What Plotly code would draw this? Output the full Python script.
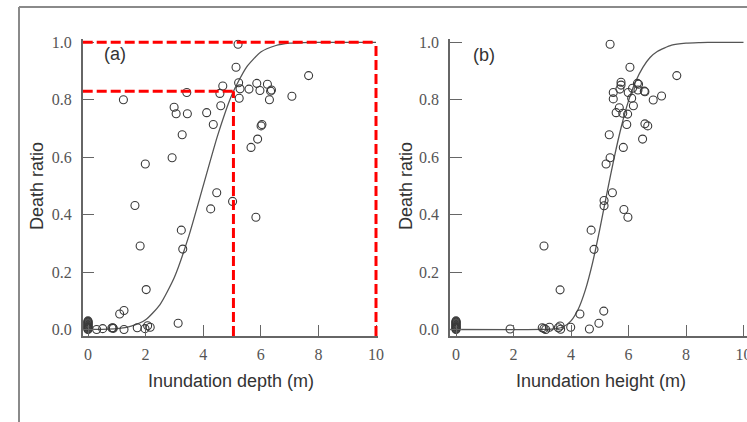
import plotly.graph_objects as go

# ---------------- data ----------------
# Panel (a): inundation depth vs death ratio
zero_cluster_ratio = [0.0, 0.0025, 0.005, 0.0075, 0.01, 0.0125, 0.015, 0.0175, 0.02, 0.0225, 0.025, 0.0275, 0.03]

depth_x = [0] * len(zero_cluster_ratio) + [
           0.30, 0.51, 0.83, 0.86, 0.88, 1.25, 1.71, 1.98, 2.07, 2.16, 3.13,
           1.10, 1.25, 2.02, 1.81, 3.29, 3.24, 1.63, 4.26, 4.47, 5.02, 5.83,
           1.99, 2.92, 3.27, 4.35, 2.99, 3.06, 3.45, 4.12, 4.61, 1.23, 3.43, 4.58, 4.68, 5.14, 5.21,
           5.23, 5.28, 5.25, 5.59, 5.86, 5.97, 6.23, 6.34, 6.37, 6.30, 7.08, 7.66, 6.04, 6.01, 5.89, 5.66]
depth_ratio = zero_cluster_ratio + [
               0.0, 0.003, 0.005, 0.006, 0.004, 0.0, 0.006, 0.003, 0.013, 0.008, 0.022,
               0.054, 0.066, 0.139, 0.291, 0.280, 0.346, 0.432, 0.420, 0.476, 0.446, 0.391,
               0.576, 0.598, 0.678, 0.714, 0.774, 0.751, 0.751, 0.755, 0.779, 0.800, 0.825, 0.822, 0.848, 0.913, 0.993,
               0.859, 0.838, 0.805, 0.837, 0.857, 0.832, 0.854, 0.830, 0.834, 0.800, 0.812, 0.884, 0.714, 0.709, 0.663, 0.634]

# fitted curve (a)
curve_a_x = [-0.18, 0, 0.5, 1, 1.5, 2, 2.5, 3, 3.5, 4, 4.5, 5, 5.5, 6, 6.5, 7, 7.5, 8, 9, 10]
curve_a_y = [0.0, 0.0001, 0.0007, 0.003, 0.012, 0.034, 0.087, 0.182, 0.325, 0.5, 0.675, 0.818,
             0.913, 0.966, 0.988, 0.997, 0.999, 1.0, 1.0, 1.0]

# Panel (b): inundation height vs death ratio
height_x = [0] * len(zero_cluster_ratio) + [
            1.88, 3.0, 3.06, 3.12, 3.25, 3.56, 3.62, 3.64, 3.99, 4.64, 4.97, 4.31, 5.14, 3.62, 3.06,
            4.80, 4.70, 5.98, 5.84, 5.15, 5.15, 5.44,
            5.22, 5.36, 5.82, 6.49, 5.33, 5.94, 6.57, 6.67, 5.57, 5.80, 5.97, 5.68, 6.17, 6.11, 6.86,
            7.15, 5.47, 5.47, 5.70, 5.74, 5.74, 5.99, 6.14, 6.31, 6.35, 6.33, 6.55, 6.57, 6.05, 7.68, 5.36]
height_ratio = zero_cluster_ratio + [
                0.002, 0.006, 0.003, 0.0, 0.008, 0.006, 0.012, 0.001, 0.008, 0.002, 0.022, 0.054, 0.064, 0.138, 0.291,
                0.279, 0.346, 0.391, 0.418, 0.431, 0.449, 0.476,
                0.576, 0.598, 0.634, 0.663, 0.678, 0.714, 0.716, 0.709, 0.755, 0.753, 0.750, 0.772, 0.779, 0.805, 0.799,
                0.813, 0.803, 0.825, 0.837, 0.851, 0.861, 0.825, 0.840, 0.857, 0.854, 0.834, 0.830, 0.828, 0.913, 0.884, 0.993]

curve_b_x = [-0.2, 3.0, 3.5, 3.75, 4.0, 4.25, 4.5, 4.75, 5.0, 5.25, 5.5, 5.75, 6.0, 6.25, 6.5,
             6.75, 7.0, 7.5, 8.0, 8.5, 9.0, 10.0]
curve_b_y = [0.0, 0.0001, 0.003, 0.0105, 0.030, 0.0705, 0.138, 0.232, 0.349, 0.475, 0.597, 0.706,
             0.796, 0.864, 0.913, 0.947, 0.968, 0.990, 0.997, 0.999, 1.0, 1.0]

# reference read-off marked by the red dashed guides in panel (a)
ref_depth = 5.05
ref_ratio = 0.83
max_depth = 10
max_ratio = 1.0

x_ticks = [0, 2, 4, 6, 8, 10]
y_ticks = [0.0, 0.2, 0.4, 0.6, 0.8, 1.0]
y_tick_text = ["0.0", "0.2", "0.4", "0.6", "0.8", "1.0"]

# ---------------- figure ----------------
W, H = 747, 422
def px(x):
    return x / W
def py(y):
    return 1 - y / H

fig = go.Figure()

marker = dict(symbol="circle-open", size=8, color="#3a3a3a", line=dict(width=1.1))
line_style = dict(color="#555555", width=1.3, shape="spline", smoothing=0.6)

fig.add_trace(go.Scatter(x=curve_a_x, y=curve_a_y, mode="lines", line=line_style,
                         xaxis="x", yaxis="y", showlegend=False, hoverinfo="skip"))
fig.add_trace(go.Scatter(x=depth_x, y=depth_ratio, mode="markers", marker=marker,
                         xaxis="x", yaxis="y", showlegend=False))
fig.add_trace(go.Scatter(x=curve_b_x, y=curve_b_y, mode="lines", line=line_style,
                         xaxis="x2", yaxis="y2", showlegend=False, hoverinfo="skip"))
fig.add_trace(go.Scatter(x=height_x, y=height_ratio, mode="markers", marker=marker,
                         xaxis="x2", yaxis="y2", showlegend=False))

tickfont = dict(family="Liberation Serif, Times New Roman, serif", size=16, color="#555555")
axis_common = dict(showline=True, linecolor="#666666", linewidth=1.5, mirror=False,
                   ticks="inside", tickcolor="#666666", tickwidth=1.2,
                   showgrid=False, zeroline=False, tickfont=tickfont, automargin=False,
                   fixedrange=True, ticklabeloverflow="allow")

# y: 0 -> 329.5 px, 1 -> 42.3 px ; keep a little headroom so the top red dash isn't clipped
y0_px, y_per = 329.5, 287.2
yrange = [-0.0226, 1.01]
ydom = [py(y0_px - yrange[0] * y_per), py(y0_px - yrange[1] * y_per)]
# x (a): 0 -> 88 px, 28.8 px per unit
xa_range = [-0.184, 10.07]
xa_dom = [px(88 + xa_range[0] * 28.8), px(88 + xa_range[1] * 28.8)]

fig.update_layout(
    width=W, height=H, autosize=False,
    margin=dict(l=0, r=0, t=0, b=0, pad=0),
    paper_bgcolor="white", plot_bgcolor="white",
    xaxis=dict(domain=xa_dom, range=xa_range, anchor="y",
               tickvals=x_ticks, ticklen=11, ticklabelstandoff=3, **axis_common),
    yaxis=dict(domain=ydom, range=yrange, anchor="x",
               tickvals=y_ticks, ticktext=y_tick_text, ticklen=12, ticklabelstandoff=6,
               **axis_common),
    xaxis2=dict(domain=[px(450), 1.0], range=[-0.209, 10.122], anchor="y2",
                tickvals=x_ticks, ticklen=11, ticklabelstandoff=3, **axis_common),
    yaxis2=dict(domain=ydom, range=yrange, anchor="x2",
                tickvals=y_ticks, ticktext=y_tick_text, ticklen=12, ticklabelstandoff=6,
                **axis_common),
)

red = dict(color="#ff0000", width=3, dash="10px,4px")
shapes = [
    # outer frame of the screenshot
    dict(type="line", xref="paper", yref="paper", x0=px(19), x1=1.0, y0=py(7), y1=py(7),
         line=dict(color="#8a8a8a", width=2)),
    dict(type="line", xref="paper", yref="paper", x0=px(19), x1=px(19), y0=0, y1=py(7),
         line=dict(color="#8a8a8a", width=2)),
    # red dashed guides (panel a)
    dict(type="line", xref="x", yref="y", x0=xa_range[0], x1=max_depth, y0=max_ratio, y1=max_ratio, line=red),
    dict(type="line", xref="x", yref="y", x0=max_depth, x1=max_depth, y0=yrange[0], y1=max_ratio, line=red),
    dict(type="line", xref="x", yref="y", x0=xa_range[0], x1=ref_depth, y0=ref_ratio, y1=ref_ratio, line=red),
    dict(type="line", xref="x", yref="y", x0=ref_depth, x1=ref_depth, y0=yrange[0], y1=ref_ratio, line=red),
]
fig.update_layout(shapes=shapes)

sans = "Liberation Sans, Arial, sans-serif"
title_font = dict(family=sans, size=18, color="#333333")
def label(text, x, y, angle=0):
    return dict(text=text, x=px(x), y=py(y), xref="paper", yref="paper", textangle=angle,
                xanchor="center", yanchor="middle", showarrow=False, font=title_font)

fig.update_layout(annotations=[
    label("Inundation depth (m)", 231, 381),
    label("Inundation height (m)", 601, 381),
    label("Death ratio", 37, 186, -90),
    label("Death ratio", 406, 186, -90),
    label("(a)", 115, 54),
    label("(b)", 484, 55),
])

fig.write_html("out.html", config={"displayModeBar": False},
               post_script="document.body.style.margin='0';document.body.style.padding='0';")
